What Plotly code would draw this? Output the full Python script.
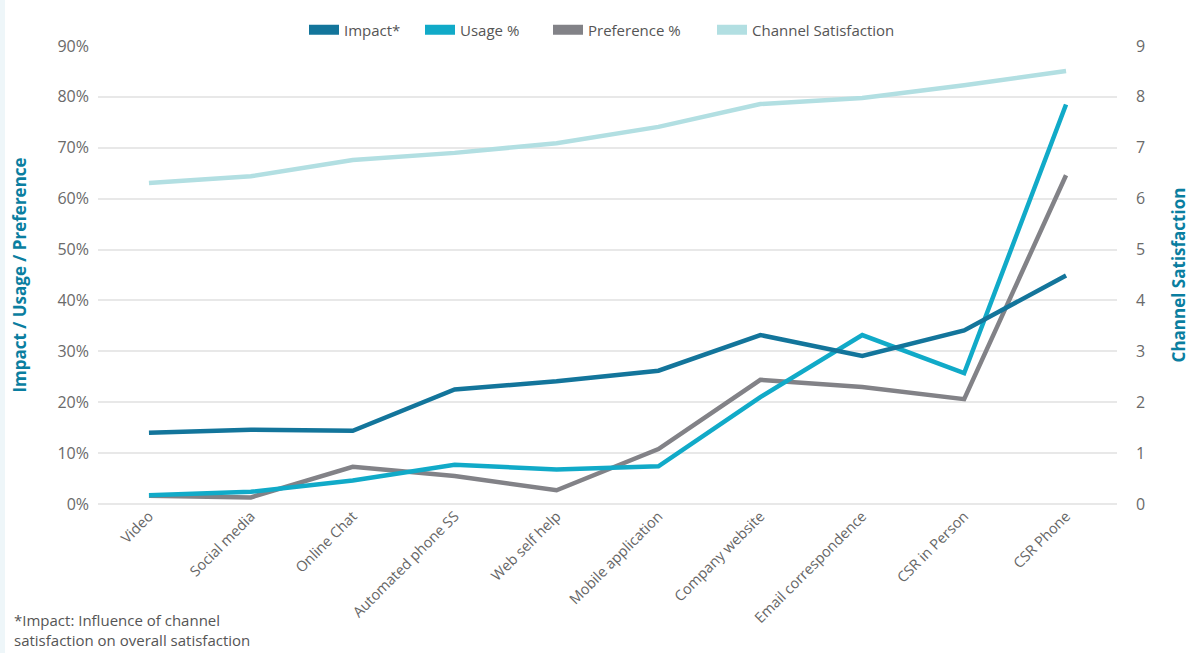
import plotly.graph_objects as go

categories = ["Video", "Social media", "Online Chat", "Automated phone SS", "Web self help",
              "Mobile application", "Company website", "Email correspondence", "CSR in Person", "CSR Phone"]
impact = [14.0, 14.6, 14.4, 22.5, 24.1, 26.2, 33.2, 29.1, 34.1, 44.9]
usage = [1.7, 2.4, 4.6, 7.7, 6.8, 7.4, 21.0, 33.2, 25.7, 78.5]
preference = [1.6, 1.3, 7.3, 5.5, 2.7, 10.8, 24.4, 23.0, 20.6, 64.6]
satisfaction = [6.31, 6.44, 6.76, 6.90, 7.09, 7.41, 7.86, 7.98, 8.23, 8.51]

left_ticks = [0, 10, 20, 30, 40, 50, 60, 70, 80, 90]
left_labels = ["0%", "10%", "20%", "30%", "40%", "50%", "60%", "70%", "80%", "90%"]
right_ticks = [0, 1, 2, 3, 4, 5, 6, 7, 8, 9]

C_IMPACT = "#13759b"
C_USAGE = "#11aac8"
C_PREF = "#828287"
C_SAT = "#b2dfe2"
TITLE_C = "#0a7ea0"
FONT = "Open Sans"

W, H = 1195, 653
fig = go.Figure()
series = [
    ("Impact*", impact, C_IMPACT, "y"),
    ("Usage %", usage, C_USAGE, "y"),
    ("Preference %", preference, C_PREF, "y"),
    ("Channel Satisfaction", satisfaction, C_SAT, "y2"),
]
order = [3, 2, 1, 0]
for i in order:
    name, vals, col, ax = series[i]
    fig.add_trace(go.Scatter(x=categories, y=vals, mode="lines", name=name,
                             line=dict(color=col, width=4.5), yaxis=ax, showlegend=False))

legend_names = ["legend", "legend2", "legend3", "legend4"]
legend_x = [304, 420, 548, 712]
for k, (name, vals, col, ax) in enumerate(series):
    fig.add_trace(go.Scatter(x=[None], y=[None], mode="lines", name=name,
                             line=dict(color=col, width=11), yaxis=ax, showlegend=True,
                             legend=legend_names[k]))

PW = 1019
PH = 458

legend_common = dict(orientation="h", xref="container", yref="container", xanchor="left",
                     y=1 - 30 / H, yanchor="middle", font=dict(size=15, color="#555555"),
                     itemwidth=30, bgcolor="rgba(0,0,0,0)")
legends = {}
for k, ln in enumerate(legend_names):
    legends[ln] = dict(legend_common, x=legend_x[k] / W)

fig.update_layout(
    width=W, height=H,
    margin=dict(l=98, r=78, t=46, b=149, autoexpand=False),
    paper_bgcolor="white", plot_bgcolor="white",
    font=dict(family=FONT, color="#666666", size=15),
    showlegend=True,
    xaxis=dict(type="category", range=[-0.5, 9.5], tickangle=-45, showgrid=False, automargin=False,
               tickfont=dict(size=14.5, color="#666666"), ticks="", showline=False),
    yaxis=dict(range=[0, 90], tickvals=left_ticks, ticktext=left_labels, showgrid=True, automargin=False,
               gridcolor="#e8e8e8", gridwidth=1.5, zeroline=True, zerolinecolor="#e8e8e8",
               zerolinewidth=1.5, tickfont=dict(size=16, color="#6a6a6a"), ticklabelstandoff=8,
               title=dict(text="<b>Impact / Usage / Preference</b>", font=dict(size=17, color=TITLE_C),
                          standoff=26)),
    yaxis2=dict(range=[0, 9], tickvals=right_ticks, overlaying="y", side="right", showgrid=False,
                automargin=False, zeroline=False, tickfont=dict(size=16, color="#6a6a6a"),
                ticklabelstandoff=18,
                title=dict(text="<b>Channel Satisfaction</b>", font=dict(size=17, color=TITLE_C),
                           standoff=28)),
    shapes=[dict(type="rect", xref="paper", yref="paper", x0=-98 / PW, x1=-93 / PW, y0=-149 / PH,
                 y1=1 + 46 / PH, fillcolor="#eef6f9", line=dict(width=0), layer="below")],
    annotations=[dict(text="*Impact: Influence of channel<br>satisfaction on overall satisfaction",
                      xref="paper", yref="paper", x=-86 / PW, y=-104 / PH, xanchor="left", yanchor="top",
                      align="left", showarrow=False, font=dict(size=15, color="#555555"))],
    **legends,
)

fig.write_html("out.html", config={"displayModeBar": False},
               post_script="document.body.style.margin='0';document.body.style.overflow='hidden';")
